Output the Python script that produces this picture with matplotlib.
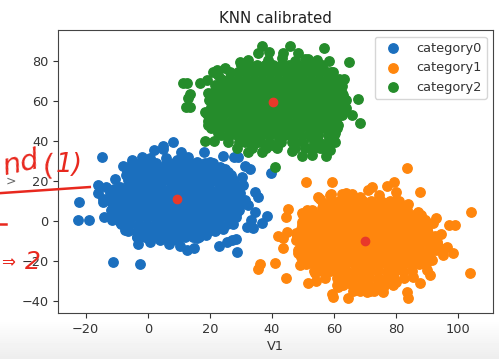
import numpy as np
import matplotlib
matplotlib.use("Agg")
import matplotlib.pyplot as plt
from matplotlib.lines import Line2D

# points: dense part of each cloud as (V2, [V1, ...]) rows, then the stray points
blue_rows = [
    (29, [-5, -2.5, 0, 2.5, 6, 8.5, 11, 13.5, 16, 18.5, 21]),
    (26, [-6, -3.4, -0.8, 1.8, 4.4, 7, 9.6, 12.2, 14.8, 17.4, 20, 22.6, 25]),
    (23, [-7, -4.4, -1.8, 0.8, 3.4, 6, 8.6, 11.2, 13.8, 16.4, 19, 21.6, 24.2, 26.8]),
    (19.5, [-6, -3.4, -0.8, 1.8, 4.4, 7, 9.6, 12.2, 14.8, 17.4, 20, 22.6, 25.2, 27.8]),
    (16, [-11, -8.4, -5.8, -3.2, -0.6, 2, 4.6, 7.2, 9.8, 12.4, 15, 17.6, 20.2, 22.8, 25.4, 28]),
    (12.5, [-12, -9.7, -7, -4.4, -1.8, 0.8, 3.4, 6, 8.6, 11.2, 13.8, 16.4, 19, 21.6, 24.2, 26.8, 29.4]),
    (9, [-11, -8.4, -5.8, -3.2, -0.6, 2, 4.6, 7.2, 9.8, 12.4, 15, 17.6, 20.2, 22.8, 25.4, 28, 30.6]),
    (5.5, [-12, -9.7, -7, -4.4, -1.8, 0.8, 3.4, 6, 8.6, 11.2, 13.8, 16.4, 19, 21.6, 24.2, 26.8, 29.4]),
    (2, [-10.5, -7.9, -5.3, -2.7, -0.1, 2.5, 5.1, 7.7, 10.3, 12.9, 15.5, 18.1, 20.7, 23.3, 25.9, 28.5]),
    (-1.5, [-8.5, -5.9, -3.3, -0.7, 1.9, 4.5, 7.1, 9.7, 12.3, 14.9, 17.5, 20.1, 22.7, 25.5]),
    (-5, [-6.5, -3.9, -1.3, 1.3, 3.9, 6.5, 9.1, 11.7, 14.3, 16.9, 19.5, 21.5]),
    (-8, [-3.5, -0.9, 1.7, 4.3, 6.9, 9.5, 12.1, 14.7, 16.5]),
]
blue_stray = [
    (8, 39.6), (4.8, 37.6), (5, 36), (2, 35.5), (-14.6, 31.8), (-7.9, 27.6), (-10.4, 20.8),
    (-16, 17.9), (-13.5, 16.8), (-16, 14.1), (-14.5, 10.9), (-14.5, 9.3), (-22.2, 9.6),
    (-22.6, 0.4), (-18.8, 0.4), (-14, 1.7), (-11.6, 0.4), (-11.3, -20.5), (-2.5, -21.6),
    (-3.3, -11.8), (6.7, -11.8), (12.5, -14.6), (14.9, -13.8), (10.4, -12.5), (28.9, -15.8),
    (23, -12.5), (25.4, -10.5), (28.3, -9.1), (27, -9.6), (24.3, -4.1), (27.3, -1.8),
    (33.8, -3.4), (31.8, -2.9), (36.7, -1.3), (38.3, 2.6), (33.4, 0.4), (34.5, 4.2),
    (32.4, 7.9), (35.6, 12.1), (34.5, 14.6), (30.8, 17.9), (30.5, 22.1), (32.9, 25.8),
    (31.3, 27.6), (29.1, 31.8), (27.8, 31.8), (24.3, 32.5), (18.1, 34.3), (13, 31.8),
    (10.6, 34.3), (39.6, 24.2),
]
blue_edge = [
    (-5.2, 30.5), (-2, 32.1), (0.7, 31.3), (6, 31.3), (9.3, 30.5), (12, 31.3), (15.7, 29.6),
    (20, 29.6), (23.2, 27.1), (25.9, 24.6), (27.5, 20.4), (29.2, 17.1), (29.7, 13.8),
    (31.3, 10.4), (28.6, 4.6), (27.5, 1.2), (22.2, -2.1), (18.9, -7.1), (15.7, -8.8),
    (9.3, -9.6), (3.9, -9.6), (0.7, -10.5), (-3.6, -7.9), (-7.3, -4.6), (-9, -0.4),
    (-11.1, 3.7), (-11.6, 8.8), (-12.2, 13.8), (-9, 17.1), (-6.3, 20.4), (-6.8, 24.6),
]

orange_rows = [
    (10, [59, 61.6, 64.2, 66.8, 69.4, 72, 75, 78, 81]),
    (6.5, [56, 58.6, 61.2, 63.8, 66.4, 69, 71.6, 74.2, 76.8, 79.4, 82]),
    (3, [52, 54.6, 57.2, 59.8, 62.4, 65, 67.6, 70.2, 72.8, 75.4, 78, 80.6, 83.2, 85.8, 88]),
    (-0.5, [50.5, 53.1, 55.7, 58.3, 60.9, 63.5, 66.1, 68.7, 71.3, 73.9, 76.5, 79.1, 81.7, 84.3, 86.9, 89.5]),
    (-4, [49.5, 52.1, 54.7, 57.3, 59.9, 62.5, 65.1, 67.7, 70.3, 72.9, 75.5, 78.1, 80.7, 83.3, 85.9, 88.5, 90]),
    (-7.5, [48, 50.6, 53.2, 55.8, 58.4, 61, 63.6, 66.2, 68.8, 71.4, 74, 76.6, 79.2, 81.8, 84.4, 87, 89.6, 92.5]),
    (-11, [49, 51.6, 54.2, 56.8, 59.4, 62, 64.6, 67.2, 69.8, 72.4, 75, 77.6, 80.2, 82.8, 85.4, 88, 90.6, 93.2]),
    (-14.5, [48.5, 51.1, 53.7, 56.3, 58.9, 61.5, 64.1, 66.7, 69.3, 71.9, 74.5, 77.1, 79.7, 82.3, 84.9, 87.5, 90.1, 92.7, 94.5]),
    (-18, [49.5, 52.1, 54.7, 57.3, 59.9, 62.5, 65.1, 67.7, 70.3, 72.9, 75.5, 78.1, 80.7, 83.3, 85.9, 88.5, 91]),
    (-21.5, [51, 53.6, 56.2, 58.8, 61.4, 64, 66.6, 69.2, 71.8, 74.4, 77, 79.6, 82.2, 84.8, 87.4, 89.5]),
    (-25, [53.5, 56.1, 58.7, 61.3, 63.9, 66.5, 69.1, 71.7, 74.3, 76.9, 79.5, 82.1, 85]),
    (-28.5, [61, 63.6, 66.2, 68.8, 71.4, 74, 76.6, 79.2, 82.5]),
    (-32, [61, 63, 65.8, 68.4, 71, 73.6, 76.2, 79]),
    (-35, [66, 68.5, 71.5, 73]),
]
orange_stray = [
    (83.6, 26.3), (104.1, 4.2), (50.9, 19.3), (59.4, 19.3), (87.8, 14.6), (79.4, 19.3),
    (77.2, 17.4), (72.3, 17.1), (70.8, 15.4), (74.5, 12.9), (80.1, 14.3), (80.1, 10.4),
    (83.9, 8.4), (45.3, 6.2), (44.4, 1.7), (44.7, -5.4), (42, -7.6), (43.4, -8.8),
    (43.6, -13.8), (41, -21), (36.3, -21.8), (35.6, -24.3), (44.4, -28.8), (49, -22.1),
    (51.5, -31), (54.2, -30), (59.2, -36.8), (64.4, -38.5), (83.4, -35.5), (83.7, -38.5),
    (59.7, -38), (75.9, -35.5), (87.8, -31), (103.8, -26.3), (90.9, -27.2), (89.8, -24.7),
    (96.3, -13.3), (98.4, -16.3), (95.2, -17.1), (94.6, -6.6), (90.3, -6), (97.1, -2.1),
    (98.9, -2.1), (92.8, 1.2), (92, -1.3), (89.3, 0.4), (55.5, 10.8), (54.9, 12.1),
    (56.3, 8.4), (51.2, 5.4), (49.6, 4.1), (58.9, 13.3), (62.4, 13.3), (65.7, 13.3),
    (49.6, -0.4), (47.7, -5.9),
]
orange_edge = [
    (58.7, 12.9), (64, 13.8), (68.3, 12.1), (73.7, 7.9), (76.9, 8.8), (83.4, 5.4), (87.1, 4.6),
    (89.3, 0.4), (89.8, -6.3), (93, -10.5), (94.1, -13.8), (91.4, -19.6), (88.2, -21.3),
    (85.5, -28), (80.1, -30.5), (75.9, -33.8), (70.5, -35.5), (66.7, -34.7), (61.4, -33),
    (57.1, -28.8), (53.8, -26.3), (51.2, -21.3), (48.5, -16.3), (47.9, -9.6), (49.6, -2.1),
    (50.1, 2.9), (52.8, 5.4), (56.5, 8.8),
]

green_rows = [
    (78, [30, 32.6, 35.2, 37.8, 40.4, 43, 45.6, 48.2, 50.8, 53.4, 56]),
    (74.5, [26.5, 29.1, 31.7, 34.3, 36.9, 39.5, 42.1, 44.7, 47.3, 49.9, 52.5, 55.1, 57.7, 59]),
    (71, [23.5, 26.1, 28.7, 31.3, 33.9, 36.5, 39.1, 41.7, 44.3, 46.9, 49.5, 52.1, 54.7, 57.3, 59.9, 61.5]),
    (67.5, [22, 24.6, 27.2, 29.8, 32.4, 35, 37.6, 40.2, 42.8, 45.4, 48, 50.6, 53.2, 55.8, 58.4, 61, 62.5]),
    (64, [20.8, 23.4, 26, 28.6, 31.2, 33.8, 36.4, 39, 41.6, 44.2, 46.8, 49.4, 52, 54.6, 57.2, 59.8, 62.4]),
    (60.5, [19.6, 22.2, 24.8, 27.4, 30, 32.6, 35.2, 37.8, 40.4, 43, 45.6, 48.2, 50.8, 53.4, 56, 58.6, 61.2, 63.5]),
    (57, [20.5, 23.1, 25.7, 28.3, 30.9, 33.5, 36.1, 38.7, 41.3, 43.9, 46.5, 49.1, 51.7, 54.3, 56.9, 59.5, 62]),
    (53.5, [19, 21.6, 24.2, 26.8, 29.4, 32, 34.6, 37.2, 39.8, 42.4, 45, 47.6, 50.2, 52.8, 55.4, 58, 60.6, 62.4]),
    (50, [19.5, 22.1, 24.7, 27.3, 29.9, 32.5, 35.1, 37.7, 40.3, 42.9, 45.5, 48.1, 50.7, 53.3, 55.9, 58.5, 60.5]),
    (46.5, [20.5, 23.1, 25.7, 28.3, 30.9, 33.5, 36.1, 38.7, 41.3, 43.9, 46.5, 49.1, 51.7, 54.3, 56.9, 59.5, 61]),
    (43, [23.5, 26.1, 28.7, 31.3, 33.9, 36.5, 39.1, 41.7, 44.3, 46.9, 49.5, 52.1, 54.7, 58, 60]),
    (39.5, [26, 29.5, 33, 36, 39, 43, 47, 50, 55, 58]),
    (36.5, [33.5, 38, 41.5, 47.5, 50.5, 53.5, 56.5]),
]
green_stray = [
    (36.8, 87.8), (45.8, 87.8), (56.9, 86.9), (64.8, 79.7), (58.5, 80.1), (35.6, 83.9),
    (39, 84.8), (43.6, 83.9), (48.5, 83.9), (54.4, 80.6), (51.7, 81.1), (63.2, 70.9),
    (67.8, 61), (68.5, 49.2), (65.7, 53), (64, 56.4), (11.4, 68.9), (12.5, 68.9),
    (13.6, 63.4), (13, 61.4), (12.2, 57.2), (13.6, 57.2), (16.8, 68.9), (19, 70.6),
    (22.2, 75.6), (21.1, 74.7), (19.5, 63.9), (18.4, 40.2), (21.4, 40.2), (28.6, 36.3),
    (32.4, 34.6), (36.7, 34.3), (46.3, 35), (49.8, 32.5), (52.8, 33), (57.3, 32.5),
    (55.5, 36.3), (41, 27.1), (42, 38.8), (31.3, 39.7), (52.8, 41.3), (60.3, 39.7),
    (58.7, 35.5),
]
green_edge = [
    (29.7, 79.7), (32.4, 80.6), (38.8, 80.6), (43.1, 81.4), (47.4, 80.1), (50.6, 81.1),
    (56, 77.2), (59.8, 74.7), (61.9, 68), (63, 63), (64, 60.5), (62.4, 53), (61.4, 48),
    (60.3, 43.8), (24.9, 76.4), (22.7, 73.1), (21.6, 68), (20, 61.4), (18.4, 54.7),
    (19.5, 48), (22.7, 43.8), (25.9, 41.3), (34.5, 38.8), (39.9, 38), (46.3, 39.7),
    (52.8, 37.2),
]

center_x = [9.5, 70, 40.3]
center_y = [11, -10, 59.6]
labels = ["category0", "category1", "category2"]
colors = ["#1b6fbe", "#ff860d", "#258c2b"]
xticks = [-20, 0, 20, 40, 60, 80, 100]
yticks = [-40, -20, 0, 20, 40, 60, 80]


def cloud(rows, stray, edge):
    pts = [(x, y) for y, xs in rows for x in xs] + stray + edge
    return np.array(pts)


fig = plt.figure(figsize=(4.99, 3.59), dpi=100)
ax = fig.add_axes([0.1172, 0.128, 0.8708, 0.788])

clouds = [cloud(blue_rows, blue_stray, blue_edge),
          cloud(orange_rows, orange_stray, orange_edge),
          cloud(green_rows, green_stray, green_edge)]
for pts, label, color in zip(clouds, labels, colors):
    ax.scatter(pts[:, 0], pts[:, 1], s=46, color=color, label=label)
ax.scatter(center_x, center_y, s=36, color="#e8392a", zorder=3)

ax.set_xlim(-28.76, 111.2)
ax.set_ylim(-46.2, 95.6)
ax.set_xticks(xticks)
ax.set_yticks(yticks)
ax.tick_params(labelsize=9.3, colors="#333333")
ax.set_title("KNN calibrated", fontsize=10.8, color="#222222", pad=5)
ax.set_xlabel("V1", fontsize=9.3, color="#333333", labelpad=3)
ax.legend(loc="upper right", fontsize=9.3, labelcolor="#333333")
for s in ax.spines.values():
    s.set_color("#444444")

# handwriting on top of the screenshot
red = "#e8281e"
fig.text(0.0, 0.495, "nd", color=red, fontsize=21, style="italic", rotation=12, va="bottom")
fig.text(0.08, 0.495, "(", color=red, fontsize=21, style="italic", rotation=10, va="bottom")
fig.text(0.112, 0.505, "1)", color=red, fontsize=19, style="italic", va="bottom")
fig.text(0.012, 0.495, ">", color="#666666", fontsize=9, va="center")
fig.text(0.05, 0.27, "2", color=red, fontsize=18, style="italic", va="center", zorder=5)
fig.text(0.002, 0.27, "\u21d2", color=red, fontsize=12, va="center", zorder=5)
fig.add_artist(Line2D([0, 0.18], [0.462, 0.479], color=red, lw=1.8))
fig.add_artist(Line2D([0, 0.012], [0.375, 0.375], color=red, lw=1.8))

# grey fade along the bottom of the screenshot
fade = fig.add_axes([0, 0, 1, 0.11], zorder=-1)
fade.imshow(np.linspace(1.0, 0.93, 40).reshape(-1, 1), cmap="gray", vmin=0, vmax=1, aspect="auto")
fade.axis("off")

fig.savefig("out.png", dpi=100)
